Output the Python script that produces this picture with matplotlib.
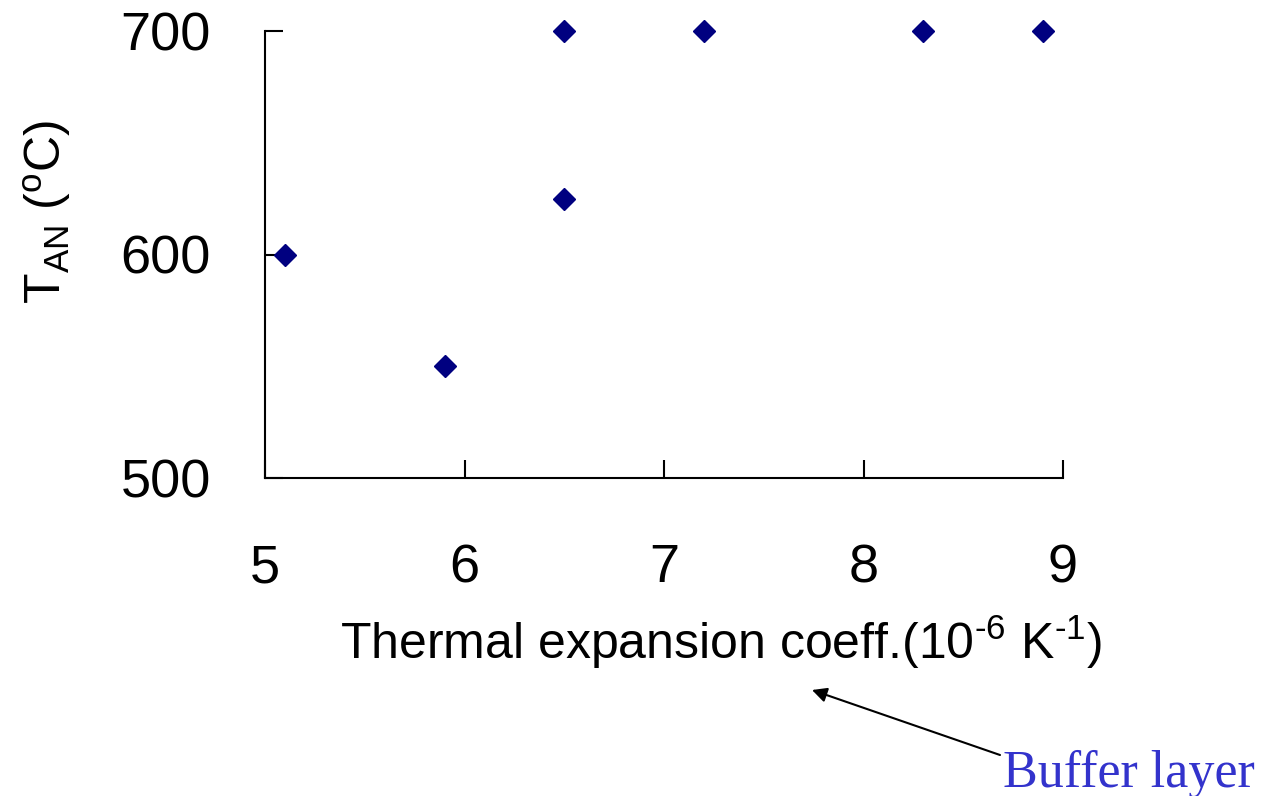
import matplotlib
matplotlib.use("Agg")
import matplotlib.pyplot as plt

# Thermal expansion coefficient of buffer layer vs. annealing temperature
expansion_coeff = [5.1, 5.9, 6.5, 6.5, 7.2, 8.3, 8.9]
anneal_temp = [600, 550, 700, 625, 700, 700, 700]
x_ticks = [5, 6, 7, 8, 9]
y_ticks = [500, 600, 700]

plt.rcParams['font.family'] = ['Liberation Sans', 'DejaVu Sans']

fig = plt.figure(figsize=(12.67, 7.96), dpi=100)
ax = fig.add_axes([265 / 1267, 1 - 478 / 796, (1063 - 265) / 1267, (478 - 31) / 796])

ax.plot(expansion_coeff, anneal_temp, linestyle='none', marker='D',
        markersize=11, color='#000080', clip_on=False)

ax.set_xlim(5, 9)
ax.set_ylim(500, 700)
ax.set_xticks(x_ticks)
ax.set_yticks(y_ticks)

for side in ('top', 'right'):
    ax.spines[side].set_visible(False)
for side in ('left', 'bottom'):
    ax.spines[side].set_linewidth(1.5)

ax.tick_params(axis='both', direction='in', length=13, width=1.5, labelsize=39)
ax.tick_params(axis='x', pad=47)
ax.tick_params(axis='y', pad=39)

ax.set_xlabel('Thermal expansion coeff.(10$^{\\mathregular{\u2010}\\mathregular{6}}$ '
              'K$^{\\mathregular{\u2010}\\mathregular{1}}$)',
              fontsize=36)
ax.xaxis.set_label_coords(0.571, -0.302)
ax.set_ylabel(r'T$_{\mathregular{AN}}$ ($^{\mathregular{o}}$C)', fontsize=36)
ax.yaxis.set_label_coords(-0.240, 0.595)

fig.text(1003 / 1267, 1 - 787 / 796, 'Buffer layer', fontsize=37.5,
         family='Liberation Serif', color='#3333CC', ha='left', va='baseline')
fig.add_artist(matplotlib.patches.FancyArrowPatch(
    (1000 / 1267, 1 - 755 / 796), (812 / 1267, 1 - 690 / 796),
    transform=fig.transFigure, arrowstyle='-|>', mutation_scale=22,
    linewidth=1.5, color='black', shrinkA=0, shrinkB=0))

fig.savefig('out.png', dpi=100)
